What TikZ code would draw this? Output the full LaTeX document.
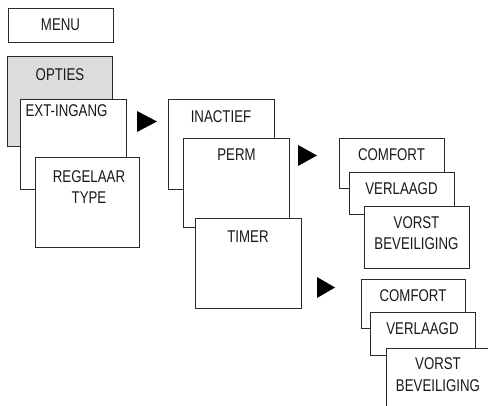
\documentclass[tikz,border=0pt]{standalone}
\usepackage{fontspec}
\setmainfont{Liberation Sans}[FakeStretch=0.78]
\definecolor{optgray}{HTML}{DCDCDC}
\definecolor{edge}{HTML}{2A2A2A}
\tikzset{
    box/.style={draw=edge, line width=0.8pt, fill=white, anchor=north west,
        minimum width=105pt, inner sep=0pt},
    lbl/.style={font=\fontsize{17}{21.5}\selectfont, text=black!90,
        align=center, inner sep=0pt}
}
\begin{document}
\begin{tikzpicture}[x=1pt, y=-1pt]

    % --- Frame ---
    \clip (0,0) rectangle (488,406);

    % --- Main menu column ---
    \node[box, minimum height=34pt] (menu) at (8,8) {};
    \node[lbl] (menuT) at (60.5,25) {MENU};

    \node[box, fill=optgray, minimum height=90pt] (opties) at (7,56) {};
    \node[lbl] (optiesT) at (60,75) {OPTIES};

    \node[box, minimum width=106pt, minimum height=90pt] (ext) at (20,99) {};
    \node[lbl] (extT) at (66.5,111) {EXT-INGANG};

    \node[box, minimum width=104pt, minimum height=90pt] (regel) at (35,157) {};
    \node[lbl] (regelT) at (89,187) {REGELAAR\\TYPE};

    % --- Input mode column ---
    \node[box, minimum width=106pt, minimum height=90pt] (inactief) at (168,99) {};
    \node[lbl] (inactiefT) at (221,117) {INACTIEF};

    \node[box, minimum width=106pt, minimum height=89pt] (perm) at (183,138) {};
    \node[lbl] (permT) at (236.5,155) {PERM};

    \node[box, minimum width=106pt, minimum height=90pt] (timer) at (195,218) {};
    \node[lbl] (timerT) at (248,237) {TIMER};

    % --- Sub menu for PERM ---
    \node[box, minimum height=50pt] (comfA) at (339,138) {};
    \node[lbl] (comfAT) at (391.5,155) {COMFORT};

    \node[box, minimum height=42pt] (verlA) at (349,172) {};
    \node[lbl] (verlAT) at (401.5,189) {VERLAAGD};

    \node[box, minimum height=62pt] (vorstA) at (364,206) {};
    \node[lbl] (vorstAT) at (416.5,233) {VORST\\BEVEILIGING};

    % --- Sub menu for TIMER ---
    \node[box, minimum width=104pt, minimum height=49pt] (comfB) at (361,279) {};
    \node[lbl] (comfBT) at (413,296) {COMFORT};

    \node[box, minimum height=43pt] (verlB) at (370,312) {};
    \node[lbl] (verlBT) at (422.5,329) {VERLAAGD};

    \node[box, minimum height=62pt] (vorstB) at (386,348) {};
    \node[lbl] (vorstBT) at (438,374.5) {VORST\\BEVEILIGING};

    % --- Arrow heads ---
    \fill[black] (137,111) -- (157,121.5) -- (137,132) -- cycle;
    \fill[black] (298,145) -- (317,155.5) -- (298,166) -- cycle;
    \fill[black] (317,277) -- (335,287.5) -- (317,298) -- cycle;

\end{tikzpicture}
\end{document}
